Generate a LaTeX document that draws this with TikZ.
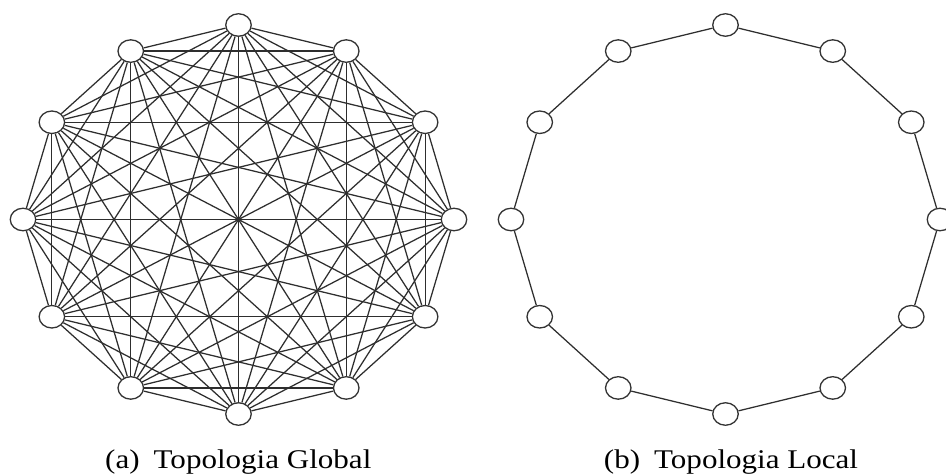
\documentclass[tikz,border=0pt]{standalone}
\usepackage{fontspec}
\setmainfont{Liberation Serif}
\usetikzlibrary{shapes.geometric}
\begin{document}
\begin{tikzpicture}[x=1pt,y=-1pt,
  vtx/.style={ellipse, draw=black!80, line width=1.3pt, fill=white, minimum width=25.5pt, minimum height=22.5pt, inner sep=0pt},
  edge/.style={draw=black!82, line width=1.25pt},
  captext/.style={anchor=base, inner sep=0pt, font=\fontsize{27}{32}\selectfont}]
\useasboundingbox (0,0) rectangle (946,476);
\fill[white] (0,0) rectangle (946,476);
% (a) complete graph
\foreach \i in {0,...,11} {
  \node[vtx] (a\i) at ({238.5+215.5*cos(90+30*\i)}, {219.5-194.5*sin(90+30*\i)}) {};
}
\foreach \i in {0,...,10} {
  \pgfmathtruncatemacro\s{\i+1}
  \foreach \j in {\s,...,11} {
    \draw[edge] (a\i) -- (a\j);
  }
}
% (b) ring
\foreach \i in {0,...,11} {
  \node[vtx] (b\i) at ({725.5+214.5*cos(90+30*\i)}, {219.5-194.5*sin(90+30*\i)}) {};
}
\foreach \i in {0,...,11} {
  \pgfmathtruncatemacro\n{mod(\i+1,12)}
  \draw[edge] (b\i) -- (b\n);
}
\node[captext] (capa) at (238.3,468) {\scalebox{1.15}[1]{(a)\hspace{0.45em}Topologia Global}};
\node[captext] (capb) at (731,468) {\scalebox{1.15}[1]{(b)\hspace{0.45em}Topologia Local}};
\end{tikzpicture}
\end{document}
